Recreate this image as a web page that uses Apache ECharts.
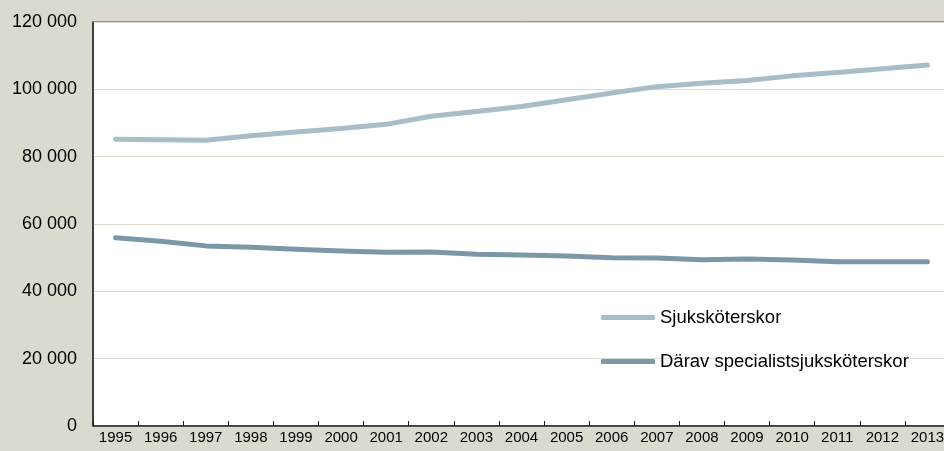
<!DOCTYPE html>
<html>
<head>
<meta charset="utf-8">
<script src="https://cdn.jsdelivr.net/npm/echarts@6/dist/echarts.min.js"></script>
<style>
  html, body { margin: 0; padding: 0; background: #dcd9cf; overflow: hidden; }
  #chart { width: 956px; height: 451px; }
</style>
</head>
<body>
<div id="chart"></div>
<script>
// Years on the category axis
const years = ['1995','1996','1997','1998','1999','2000','2001','2002','2003','2004',
               '2005','2006','2007','2008','2009','2010','2011','2012','2013'];

// Number of nurses, all
const sjukskoterskor = [85200, 85000, 84850, 86200, 87300, 88400, 89600, 92000, 93400, 94900,
                        96900, 98900, 100800, 101800, 102600, 104000, 105000, 106100, 107200];

// Of which specialist nurses
const specialister = [55900, 54900, 53500, 53100, 52500, 52000, 51600, 51700, 51000, 50800,
                      50500, 50000, 49900, 49400, 49600, 49300, 48800, 48800, 48800];

const seriesNames = ['Sjuksköterskor', 'Därav specialistsjuksköterskor'];
const yTicks = [0, 20000, 40000, 60000, 80000, 100000, 120000];

const colorAll = '#a7bdc8';
const colorSpec = '#7b98a9';
const font = '"Liberation Sans", Arial, sans-serif';

function fmt(v) {
  return String(v).replace(/\B(?=(\d{3})+(?!\d))/g, ' ');
}

const chart = echarts.init(document.getElementById('chart'), null, { renderer: 'canvas' });

const legendBase = {
  orient: 'vertical',
  left: 601,
  itemWidth: 54,
  itemHeight: 5,
  icon: 'roundRect',
  textStyle: { fontFamily: font, fontSize: 18.5, color: '#000' },
  padding: 0,
  selectedMode: false
};

chart.setOption({
  backgroundColor: '#dcd9cf',
  animation: false,
  textStyle: { fontFamily: font },
  legend: [
    Object.assign({}, legendBase, { top: 308, data: [seriesNames[0]] }),
    Object.assign({}, legendBase, { top: 352, data: [seriesNames[1]] })
  ],
  grid: {
    left: 93, top: 22, width: 857, height: 404,
    show: true,
    backgroundColor: '#ffffff',
    borderColor: '#4a4a4a',
    borderWidth: 1,
    containLabel: false
  },
  xAxis: {
    type: 'category',
    data: years,
    boundaryGap: true,
    axisLine: { show: true, lineStyle: { color: '#222', width: 1.5 } },
    axisTick: { show: true, inside: true, length: 5, lineStyle: { color: '#222' } },
    axisLabel: { fontFamily: font, fontSize: 15, color: '#000', margin: 4 },
    splitLine: { show: false }
  },
  yAxis: {
    type: 'value',
    min: yTicks[0],
    max: yTicks[yTicks.length - 1],
    interval: yTicks[1] - yTicks[0],
    axisLine: { show: true, lineStyle: { color: '#222', width: 1.5 } },
    axisTick: { show: false },
    axisLabel: { fontFamily: font, fontSize: 18, color: '#000', margin: 16, formatter: fmt },
    splitLine: { show: true, lineStyle: { color: '#dedbd0', width: 1 } }
  },
  series: [
    {
      name: seriesNames[0],
      type: 'line',
      data: sjukskoterskor,
      showSymbol: false,
      symbol: 'none',
      color: colorAll,
      lineStyle: { color: colorAll, width: 5, cap: 'round', join: 'round' },
      itemStyle: { color: colorAll }
    },
    {
      name: seriesNames[1],
      type: 'line',
      data: specialister,
      showSymbol: false,
      symbol: 'none',
      color: colorSpec,
      lineStyle: { color: colorSpec, width: 5, cap: 'round', join: 'round' },
      itemStyle: { color: colorSpec }
    }
  ]
});
</script>
</body>
</html>
